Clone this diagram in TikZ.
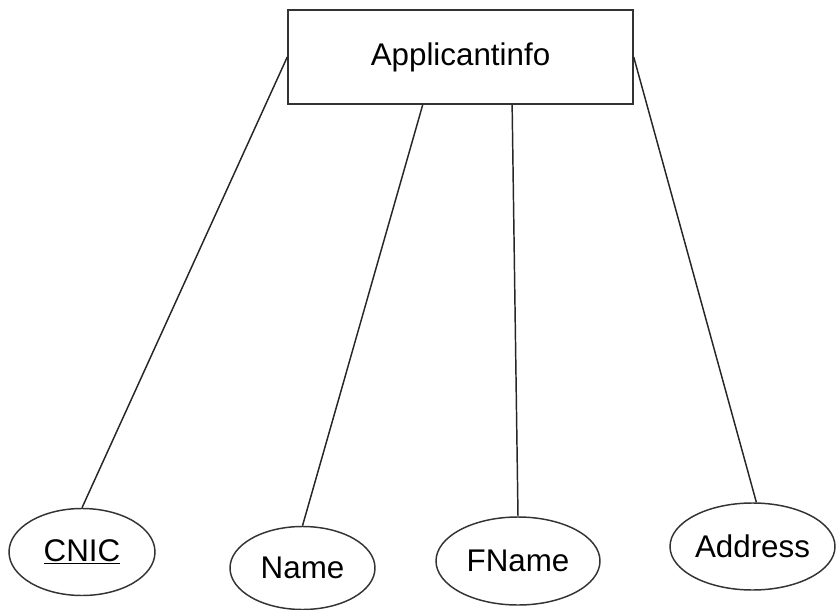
\documentclass[tikz,border=0pt]{standalone}
\usepackage{fontspec}
\setmainfont{Liberation Sans}
\usetikzlibrary{shapes.geometric,calc}
\begin{document}
\begin{tikzpicture}[x=0.75pt,y=-0.75pt,
  ink/.style={draw=black!80,line width=1.1pt},
  entity/.style={ink,rectangle,minimum width=345*0.75pt,minimum height=94*0.75pt,inner sep=0pt,font=\fontsize{23.5}{28}\selectfont},
  attr/.style={ink,ellipse,inner sep=0pt,font=\fontsize{23.5}{28}\selectfont},
  link/.style={draw=black!85,line width=1.1pt}]
\useasboundingbox (0,0) rectangle (836,610);
\node[entity] (app) at (460.5,57) {Applicantinfo};
\node[attr,minimum width=146*0.75pt,minimum height=87*0.75pt] (cnic) at (82,552) {\underline{CNIC}};
\node[attr,minimum width=145*0.75pt,minimum height=83*0.75pt] (name) at (302.5,568) {Name};
\node[attr,minimum width=164*0.75pt,minimum height=88*0.75pt] (fname) at (518,561) {FName};
\node[attr,minimum width=165*0.75pt,minimum height=87*0.75pt] (addr) at (752.5,546.5) {Address};
\draw[link] ($(app.north west)!0.5!(app.south west)$) -- (cnic.north);
\draw[link] ($(app.south west)!0.391!(app.south east)$) -- (name.north);
\draw[link] ($(app.south west)!0.649!(app.south east)$) -- (fname.north);
\draw[link] ($(app.north east)!0.5!(app.south east)$) -- (addr.85);
\end{tikzpicture}
\end{document}
